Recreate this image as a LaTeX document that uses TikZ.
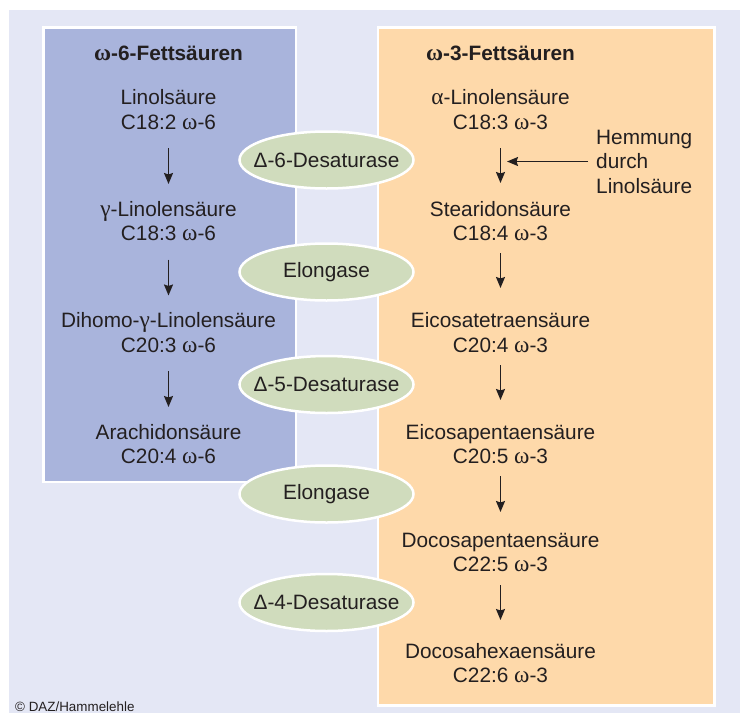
\documentclass[tikz,border=0pt]{standalone}
\usepackage{fontspec}
\setmainfont{Liberation Sans}
\newfontfamily\grk[Scale=1.12]{Liberation Serif}
\usetikzlibrary{arrows.meta,shapes.geometric}
\definecolor{bglav}{HTML}{E4E7F5}
\definecolor{lblue}{HTML}{A9B4DC}
\definecolor{lorange}{HTML}{FED9AA}
\definecolor{enzgreen}{HTML}{D0DCBD}
\definecolor{ink}{HTML}{231F20}
\newcommand{\om}{{\grk ω}}
\begin{document}
\begin{tikzpicture}[x=1pt,y=-1pt,
  txt/.style={anchor=base, inner sep=0pt, font=\fontsize{20.8}{24}\selectfont, text=ink},
  ttl/.style={txt, font=\fontsize{20.8}{24}\selectfont\bfseries},
  hem/.style={txt, anchor=base west},
  enz/.style={ellipse, draw=white, line width=2.5pt, fill=enzgreen, minimum width=174pt, minimum height=57pt, inner sep=0pt},
  enztxt/.style={inner sep=0pt, font=\fontsize{20.8}{24}\selectfont, text=ink},
  arr/.style={-{Stealth[length=11pt,width=9pt,inset=1.5pt]}, line width=1.6pt, draw=ink},
  panel/.style={draw=white, line width=2.5pt}
]
\useasboundingbox (0,0) rectangle (740,713);
\fill[white] (0,0) rectangle (740,713);
\fill[bglav] (9,10) rectangle (740,713);
\draw[panel, fill=lblue] (43.3,27.3) rectangle (295.8,481.8);
\draw[panel, fill=lorange] (378,27.3) rectangle (714.5,705.5);

% left column
\node[ttl] (t6) at (168.5,60) {\om-6-Fettsäuren};
\node[txt] (l1a) at (168.5,104.5) {Linolsäure};
\node[txt] (l1b) at (168.5,129) {C18:2 \om-6};
\node[txt] (l2a) at (168.5,216) {{\grk γ}-Linolensäure};
\node[txt] (l2b) at (168.5,240.5) {C18:3 \om-6};
\node[txt] (l3a) at (168.5,327.5) {Dihomo-{\grk γ}-Linolensäure};
\node[txt] (l3b) at (168.5,352) {C20:3 \om-6};
\node[txt] (l4a) at (168.5,439) {Arachidonsäure};
\node[txt] (l4b) at (168.5,463.5) {C20:4 \om-6};

\draw[arr] ([yshift=-19pt]l1b.base) -- ([yshift=32pt]l2a.base);
\draw[arr] ([yshift=-19pt]l2b.base) -- ([yshift=32pt]l3a.base);
\draw[arr] ([yshift=-19pt]l3b.base) -- ([yshift=32pt]l4a.base);

% right column
\node[ttl] (t3) at (500.5,60) {\om-3-Fettsäuren};
\node[txt] (r1a) at (500.5,104.5) {{\grk α}-Linolensäure};
\node[txt] (r1b) at (500.5,129) {C18:3 \om-3};
\node[txt] (r2a) at (500.5,216) {Stearidonsäure};
\node[txt] (r2b) at (500.5,240.5) {C18:4 \om-3};
\node[txt] (r3a) at (500.5,327.5) {Eicosatetraensäure};
\node[txt] (r3b) at (500.5,352) {C20:4 \om-3};
\node[txt] (r4a) at (500.5,439) {Eicosapentaensäure};
\node[txt] (r4b) at (500.5,463.5) {C20:5 \om-3};
\node[txt] (r5a) at (500.5,547) {Docosapentaensäure};
\node[txt] (r5b) at (500.5,571.5) {C22:5 \om-3};
\node[txt] (r6a) at (500.5,658) {Docosahexaensäure};
\node[txt] (r6b) at (500.5,682.5) {C22:6 \om-3};

\draw[arr] ([yshift=-19pt]r1b.base) -- ([yshift=33pt]r2a.base);
\draw[arr] ([yshift=-12.5pt]r2b.base) -- ([yshift=39.5pt]r3a.base);
\draw[arr] ([yshift=-13pt]r3b.base) -- ([yshift=39pt]r4a.base);
\draw[arr] ([yshift=-12.5pt]r4b.base) -- ([yshift=35pt]r5a.base);
\draw[arr] ([yshift=-13.5pt]r5b.base) -- ([yshift=38pt]r6a.base);

% inhibition
\node[hem] (h1) at (596,144) {Hemmung};
\node[hem] (h2) at (596,168) {durch};
\node[hem] (h3) at (596,193) {Linolsäure};
\coordinate (inh) at (507,161.5);
\draw[arr] ([xshift=-8pt,yshift=6.5pt]h2.base west) -- (inh);

% enzymes
\node[enz] (e1) at (326.5,160) {};
\node[enz] (e2) at (326.5,272) {};
\node[enz] (e3) at (326.5,384.5) {};
\node[enz] (e4) at (326.5,494) {};
\node[enz] (e5) at (326.5,602.5) {};
\node[enztxt] (e1t) at (e1) {Δ-6-Desaturase};
\node[enztxt] (e2t) at (e2) {Elongase};
\node[enztxt] (e3t) at (e3) {Δ-5-Desaturase};
\node[enztxt] (e4t) at (e4) {Elongase};
\node[enztxt] (e5t) at (e5) {Δ-4-Desaturase};

% credit
\node[anchor=base west, inner sep=0pt, font=\fontsize{13.4}{15}\selectfont, text=ink] (cr) at (15,711) {© DAZ/Hammelehle};
\end{tikzpicture}
\end{document}
